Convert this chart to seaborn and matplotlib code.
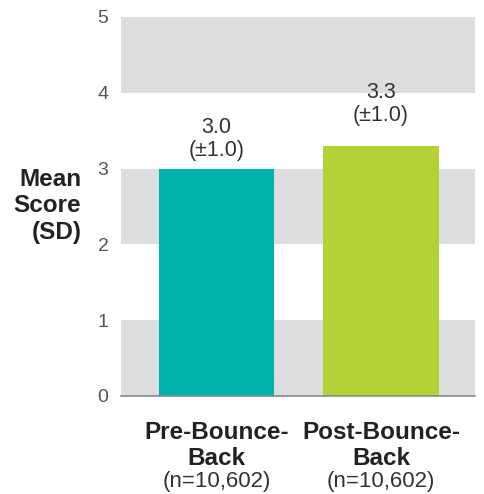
import matplotlib
matplotlib.use("Agg")
import matplotlib.pyplot as plt
import matplotlib.transforms as mtransforms
import seaborn as sns
import pandas as pd

categories = ["Pre-Bounce-\nBack", "Post-Bounce-\nBack"]
sample_sizes = ["(n=10,602)", "(n=10,602)"]
means = [3.0, 3.3]
sds = [1.0, 1.0]
colors = ["#00B2AE", "#B2D235"]
yticks = [0, 1, 2, 3, 4, 5]

sns.set_theme(style="white")
plt.rcParams['font.family'] = ['Liberation Sans', 'DejaVu Sans']

df = pd.DataFrame({"cat": categories, "mean": means})

fig = plt.figure(figsize=(4.84, 4.94), dpi=100)
ax = fig.add_axes([0.25, 0.1984, 0.731, 0.7672])

for lo in (0, 2, 4):
    ax.axhspan(lo, lo + 1, color="#DCDDDF", zorder=0, lw=0)

sns.barplot(data=df, x="cat", y="mean", hue="cat", palette=colors,
            width=0.7, saturation=1, legend=False, ax=ax, zorder=2,
            linewidth=0, edgecolor="none")

ax.set_xlim(-0.58, 1.57)
ax.set_ylim(0, 5)
ax.set_yticks(yticks)
ax.set_yticklabels([str(t) for t in yticks], fontsize=14, color="#555555")
for lbl in ax.get_yticklabels():
    lbl.set_va("center_baseline")
ax.tick_params(axis="y", length=0, pad=9)
ax.set_xticks([0, 1])
ax.set_xticklabels(["", ""])
ax.tick_params(axis="x", length=0)
ax.set_xlabel("")
ax.set_ylabel("")

for s in ("top", "right", "left"):
    ax.spines[s].set_visible(False)
ax.spines["bottom"].set_color("#888888")
ax.spines["bottom"].set_linewidth(1.2)
ax.spines["bottom"].set_zorder(3)

# value labels
label_offsets = [0.39, 0.555]
for i, (m, sd) in enumerate(zip(means, sds)):
    ax.text(i, m + label_offsets[i], f"{m:.1f}\n(\u00b1{sd:.1f})", ha="center", va="center",
            fontsize=15.5, color="#333333", linespacing=1.12)

# category labels and sample sizes below the axis
trans = mtransforms.blended_transform_factory(ax.transData, ax.transAxes)
for i, (c, n) in enumerate(zip(categories, sample_sizes)):
    ax.text(i, -0.13, c, transform=trans, ha="center", va="center",
            fontsize=17.5, fontweight="bold", color="#222222", linespacing=1.18)
    ax.text(i, -0.226, n, transform=trans, ha="center", va="center",
            fontsize=16, color="#333333")

fig.text(0.168, 0.583, "Mean\nScore\n(SD)", ha="right", va="center",
         fontsize=17.5, fontweight="bold", color="#222222", linespacing=1.2)

fig.savefig("out.png", dpi=100)
